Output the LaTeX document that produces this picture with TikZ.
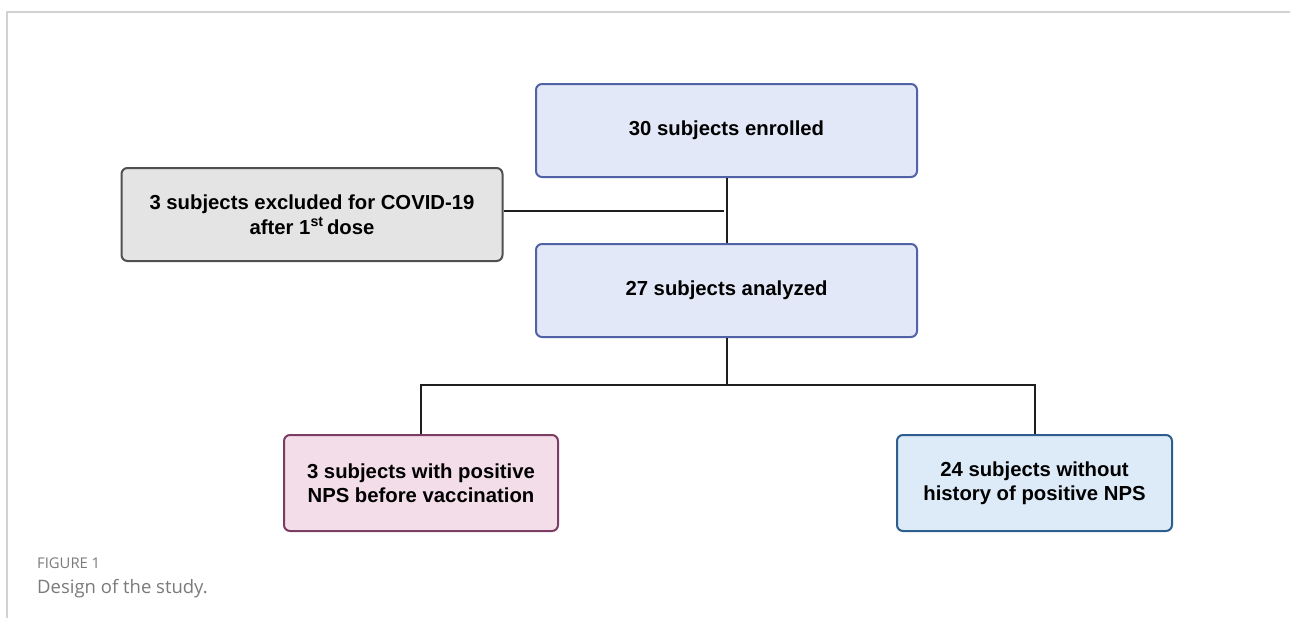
\documentclass[tikz,border=0pt]{standalone}
\usepackage{fontspec}
\usepackage{xcolor}
\setmainfont{Liberation Sans}
\newfontfamily\capfont{Open Sans}
\definecolor{enrolfill}{HTML}{E3E8F8}
\definecolor{enroldraw}{HTML}{5163A6}
\definecolor{exclfill}{HTML}{E4E4E4}
\definecolor{excldraw}{HTML}{505050}
\definecolor{posfill}{HTML}{F3DDE8}
\definecolor{posdraw}{HTML}{7C3D63}
\definecolor{negfill}{HTML}{DDEAF8}
\definecolor{negdraw}{HTML}{2E5E8E}
\definecolor{framegray}{HTML}{D2D2D2}
\definecolor{capgray}{HTML}{7A7A7A}

\begin{document}
\begin{tikzpicture}[x=1pt, y=-1pt, every node/.style={font=\fontsize{20.3}{24.5}\selectfont\bfseries, align=center},
  flowbox/.style={rounded corners=6pt, line width=2pt, minimum width=381pt, minimum height=93pt},
  link/.style={line width=2pt, draw=black!88}]
\useasboundingbox (0,0) rectangle (1290,618);
% frame
\draw[framegray, line width=1.5pt] (1290,12) -- (7,12) -- (7,618);
% flow
\node[flowbox, draw=enroldraw, fill=enrolfill] (enrolled) at (726.5,130.5) {30 subjects enrolled};
\node[flowbox, draw=excldraw, fill=exclfill] (excluded) at (312,214.5) {3 subjects excluded for COVID-19\\after 1\textsuperscript{st}\,dose};
\node[flowbox, draw=enroldraw, fill=enrolfill] (analyzed) at (726.5,290.5) {27 subjects analyzed};
\node[flowbox, minimum width=274pt, minimum height=96pt, draw=posdraw, fill=posfill] (positive) at (421,483) {3 subjects with positive\\NPS before vaccination};
\node[flowbox, minimum width=275pt, minimum height=96pt, draw=negdraw, fill=negfill] (negative) at (1034.5,483) {24 subjects without\\history of positive NPS};
\coordinate (join) at (724,211);
\coordinate (split) at (726.5,385);
\draw[link] (enrolled) -- (analyzed);
\draw[link] (excluded.east |- join) -- (join);
\draw[link] (analyzed) -- (split);
\draw[link] (positive.north) |- (split) -| (negative.north);
% caption
\node[font=\capfont\fontsize{14.8}{18}\selectfont, text=capgray, inner sep=0pt, anchor=base west] (figlabel) at (37,568) {FIGURE 1};
\node[font=\capfont\fontsize{18.5}{22}\selectfont, text=capgray, inner sep=0pt, anchor=base west] (figtitle) at (37,593) {Design of the study.};
\end{tikzpicture}
\end{document}
